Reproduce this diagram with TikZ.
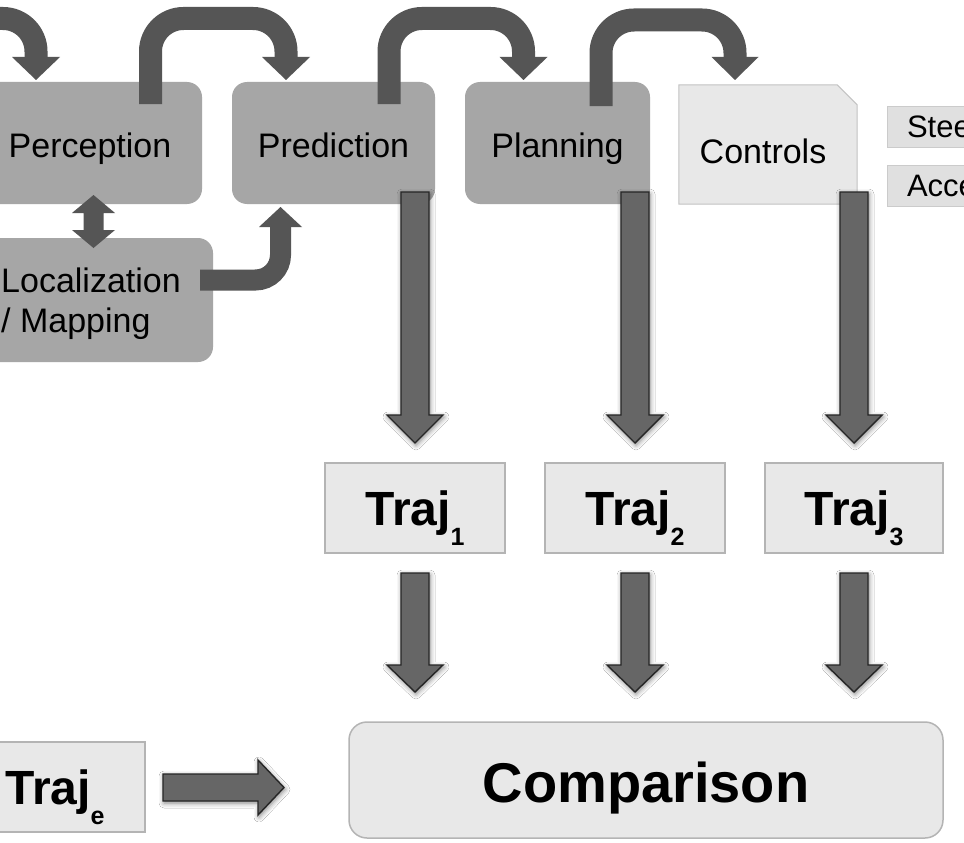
\documentclass[tikz,border=0pt]{standalone}
\usepackage{fontspec}
\setmainfont{Liberation Sans}
\usetikzlibrary{shadows.blur}

\definecolor{flowgray}{HTML}{555555}
\definecolor{stagegray}{HTML}{A6A6A6}
\definecolor{palegray}{HTML}{E8E8E8}
\definecolor{edgegray}{HTML}{B4B4B4}
\definecolor{blockgray}{HTML}{666666}
\definecolor{tabgray}{HTML}{E0E0E0}

\tikzset{
  stage/.style={fill=stagegray, rounded corners=15pt, inner sep=0pt,
    font=\fontsize{34}{40}\selectfont},
  flow/.style={draw=flowgray, line width=23pt, rounded corners=33pt},
  trajbox/.style={fill=palegray, draw=edgegray, line width=1.5pt,
    minimum width=180pt, minimum height=90pt, inner sep=0pt,
    text height=40pt, text depth=6pt, font=\fontsize{48}{48}\selectfont\bfseries},
  tab/.style={fill=tabgray, draw=edgegray!70, line width=1pt,
    minimum width=200pt, minimum height=41pt, inner sep=0pt,
    text width=160pt, align=left, text height=22pt, text depth=1pt,
    font=\fontsize{31}{31}\selectfont},
  blockarrow/.style={fill=blockgray, draw=black!85, line width=1.4pt, line join=miter,
    blur shadow={shadow xshift=1pt, shadow yshift=-2pt, shadow blur radius=5pt,
      shadow opacity=50}},
}

% Trajectory label with a lowered subscript
\newcommand{\trajlabel}[1]{Traj\raisebox{-20pt}{\fontsize{25}{25}\selectfont\bfseries #1}}
% Downward block arrow: centre x, top of shaft, base of head, tip
\newcommand{\dnblock}[4]{%
  \draw[blockarrow] (#1-14,#2) -- (#1+14,#2) -- (#1+14,#3) -- (#1+28,#3)
    -- (#1,#4) -- (#1-28,#3) -- (#1-14,#3) -- cycle;}
% Triangular head of a flow arrow: centre x, base y, tip y, half width
\newcommand{\flowhead}[4]{%
  \fill[flowgray] (#1-#4,#2) -- (#1+#4,#2) -- (#1,#3) -- cycle;}

\begin{document}
\begin{tikzpicture}[x=1pt,y=-1pt]
\useasboundingbox (0,0) rectangle (964,843);
\clip (0,0) rectangle (964,843);
\fill[white] (0,0) rectangle (964,843);

% pipeline stages
\node[stage, minimum width=224pt, minimum height=122pt, text height=28pt, text depth=0pt]
  (perc) at (90,143) {Perception};
\node[stage, minimum width=235pt, minimum height=124pt] (loc) at (95.5,300) {};
\node[anchor=north west, inner sep=0pt, align=left, font=\fontsize{34}{40}\selectfont]
  (loctext) at (1,268) {Localization\\/ Mapping};
\node[stage, minimum width=203pt, minimum height=122pt, text height=28pt, text depth=0pt]
  (pred) at (333.5,143) {Prediction};
\node[stage, minimum width=185pt, minimum height=122pt, text height=28pt, text depth=0pt]
  (plan) at (557.5,143) {Planning};

% controls sheet with a clipped corner
\node[minimum width=178pt, minimum height=119pt, inner sep=0pt] (ctlframe) at (768,144.5) {};
\filldraw[fill=palegray, draw=edgegray!80, line width=1pt]
  (ctlframe.south west) -- (ctlframe.north west) -- ([xshift=-20pt]ctlframe.north east)
  -- ([yshift=-20pt]ctlframe.north east) -- (ctlframe.south east) -- cycle;
\node[inner sep=0pt, text height=37pt, text depth=0pt, font=\fontsize{34}{40}\selectfont]
  (ctl) at ([xshift=-5pt]ctlframe.center) {Controls};

% control outputs
\node[tab] (steer) at (987,126.5) {Steering};
\node[tab] (accel) at (987,185.5) {Acceleration};

% trajectories
\node[trajbox] (t1) at (415,508) {\trajlabel{1}};
\node[trajbox] (t2) at (635,508) {\trajlabel{2}};
\node[trajbox, minimum width=178pt] (t3) at (854,508) {\trajlabel{3}};
\node[trajbox] (te) at (55,787) {\trajlabel{e}};

% comparison
\node[fill=palegray, draw=edgegray, line width=1.5pt, rounded corners=18pt,
  minimum width=594pt, minimum height=116pt, inner sep=0pt, text height=44pt,
  text depth=0pt, font=\fontsize{56}{56}\selectfont\bfseries] (cmp) at (646,780) {Comparison};

% flow between stages
\draw[flow] (-60,18.5) -- (36,18.5) -- (36,58);
\flowhead{36}{57}{80}{24}
\draw[flow] (150.5,104) -- (150.5,18.5) -- (286,18.5) -- (286,58);
\flowhead{286}{57}{80}{24}
\draw[flow] (389,104) -- (389,18.5) -- (523.5,18.5) -- (523.5,58);
\flowhead{523.5}{57}{80}{24}
\draw[flow] (601,106) -- (601,20) -- (735,20) -- (735,58);
\flowhead{735}{57}{80}{23.5}
\draw[flow, line width=21pt, rounded corners=25pt] (200,280) -- (280.5,280) -- (280.5,226);
\flowhead{280.5}{227}{207}{21.5}

% perception <-> localization
\fill[flowgray] (93.5,195) -- (115,213) -- (103.5,213) -- (103.5,230) -- (115,230)
  -- (93.5,248) -- (72,230) -- (83.5,230) -- (83.5,213) -- (72,213) -- cycle;

% stage outputs to trajectories
\dnblock{415}{192}{415}{443}
\dnblock{635}{192}{415}{443}
\dnblock{854}{192}{415}{443}

% trajectories to comparison
\dnblock{415}{573}{665}{692}
\dnblock{635}{573}{665}{692}
\dnblock{854}{573}{665}{692}
\draw[blockarrow] (163,774) -- (258,774) -- (258,760) -- (284,787.5) -- (258,815)
  -- (258,801) -- (163,801) -- cycle;
\end{tikzpicture}
\end{document}
